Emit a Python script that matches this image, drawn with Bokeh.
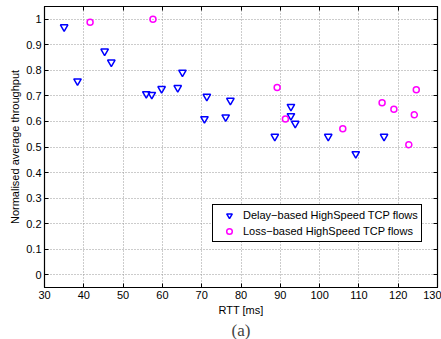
from bokeh.plotting import figure
from bokeh.models import (LinearAxis, FixedTicker, CustomJSTickFormatter, Legend,
                          LegendItem, Title, Range1d, CustomLabelingPolicy)
from bokeh.embed import file_html
from bokeh.resources import INLINE

# Data
delay_rtt = [35.0, 38.4, 45.3, 47.0, 55.9, 57.3, 59.8, 63.9, 65.1, 70.7, 71.3,
             76.1, 77.3, 88.6, 92.7, 92.7, 93.8, 102.2, 109.2, 116.4]
delay_thr = [0.970, 0.758, 0.875, 0.832, 0.708, 0.705, 0.728, 0.732, 0.792, 0.610, 0.698,
             0.617, 0.682, 0.541, 0.658, 0.622, 0.592, 0.541, 0.473, 0.541]
loss_rtt = [41.6, 57.6, 89.2, 91.3, 105.9, 115.9, 118.9, 122.7, 124.1, 124.6]
loss_thr = [0.988, 1.000, 0.733, 0.610, 0.571, 0.673, 0.648, 0.509, 0.626, 0.724]

x_ticks = [30, 40, 50, 60, 70, 80, 90, 100, 110, 120, 130]
y_ticks = [0, 0.1, 0.2, 0.3, 0.4, 0.5, 0.6, 0.7, 0.8, 0.9, 1.0]

FONT = "Liberation Sans"
FS = "11px"

p = figure(width=441, height=339, output_backend="svg", toolbar_location=None,
           x_range=Range1d(30, 130), y_range=Range1d(-0.05, 1.05),
           min_border_left=44, min_border_right=0, min_border_top=6, min_border_bottom=40,
           x_axis_label="RTT [ms]", y_axis_label="Normalised average throughput")
p.background_fill_color = "white"
p.border_fill_color = "white"
p.outline_line_color = "black"
p.outline_line_width = 1.2
p.outline_line_alpha = 1

fmt = CustomJSTickFormatter(code="return String(Math.round(tick*10)/10);")

for ax, ticks in ((p.xaxis[0], x_ticks), (p.yaxis[0], y_ticks)):
    ax.ticker = FixedTicker(ticks=ticks)
    ax.major_tick_in = 4
    ax.major_tick_out = 0
    ax.minor_tick_in = 0
    ax.minor_tick_out = 0
    ax.major_label_text_font = FONT
    ax.major_label_text_font_size = FS
    ax.major_label_text_color = "black"
    ax.axis_label_text_font = FONT
    ax.axis_label_text_font_size = FS
    ax.axis_label_text_font_style = "normal"
    ax.axis_label_text_color = "black"
    ax.axis_line_color = "black"
    ax.major_tick_line_color = "black"
    ax.major_label_standoff = 3
    ax.axis_label_standoff = 2
    ax.formatter = fmt

hide = CustomLabelingPolicy(code="return false;")
for side, ticks in (("right", y_ticks), ("above", x_ticks)):
    ax = LinearAxis(ticker=FixedTicker(ticks=ticks), major_tick_in=4, major_tick_out=0,
                    minor_tick_in=0, minor_tick_out=0, major_label_text_font_size="1px",
                    major_label_standoff=0, major_label_policy=hide,
                    axis_line_color="black", major_tick_line_color="black")
    p.add_layout(ax, side)

for g in (p.xgrid[0], p.ygrid[0]):
    g.grid_line_color = "#999999"
    g.grid_line_dash = "1 2"
    g.grid_line_width = 1
p.xgrid[0].ticker = FixedTicker(ticks=x_ticks)
p.ygrid[0].ticker = FixedTicker(ticks=y_ticks)

r1 = p.scatter(delay_rtt, delay_thr, marker="inverted_triangle", size=7.5,
               line_color="blue", fill_color="white", fill_alpha=0, line_width=1.5)
r2 = p.scatter(loss_rtt, loss_thr, marker="circle", size=6,
               line_color="#FF00FF", fill_color="white", fill_alpha=0, line_width=1.5)

legend = Legend(items=[LegendItem(label="Delay\u2212based HighSpeed TCP flows", renderers=[r1]),
                       LegendItem(label="Loss\u2212based HighSpeed TCP flows", renderers=[r2])],
                location=(168, 45))
legend.label_text_font = FONT
legend.label_text_font_size = FS
legend.label_text_color = "black"
legend.border_line_color = "black"
legend.border_line_width = 1
legend.border_line_alpha = 1
legend.background_fill_alpha = 1
legend.glyph_width = 26
legend.glyph_height = 14
legend.label_height = 14
legend.padding = 3
legend.spacing = 2
legend.margin = 0
legend.label_standoff = 1
p.add_layout(legend, "center")

t = Title(text="(a)", align="center", text_font="Liberation Serif",
          text_font_size="17px", text_font_style="normal", standoff=0)
p.add_layout(t, "below")

open("out.html", "w").write(file_html(p, INLINE))
